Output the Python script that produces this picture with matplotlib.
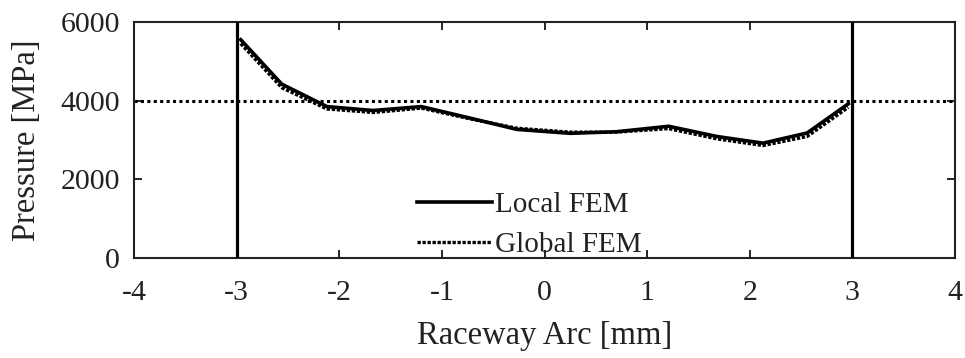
import matplotlib
matplotlib.use("Agg")
import matplotlib.pyplot as plt

# Contact pressure along the raceway arc
arc_local = [-2.96, -2.56, -2.12, -1.67, -1.20, -0.73, -0.27, 0.25, 0.70, 1.21, 1.68, 2.13, 2.56, 2.96]
p_local = [5550, 4420, 3850, 3750, 3850, 3560, 3270, 3170, 3210, 3350, 3090, 2920, 3180, 3920]

arc_global = [-2.96, -2.56, -2.12, -1.67, -1.20, -0.73, -0.27, 0.25, 0.70, 1.21, 1.68, 2.13, 2.56, 2.96]
p_global = [5450, 4330, 3790, 3700, 3810, 3540, 3300, 3200, 3200, 3290, 3030, 2860, 3090, 3830]

contact_edges = [-3, 3]
pressure_limit = 4000

x_ticks = [-4, -3, -2, -1, 0, 1, 2, 3, 4]
y_ticks = [0, 2000, 4000, 6000]

plt.rcParams["font.family"] = ["Liberation Serif", "DejaVu Serif"]

fig = plt.figure(figsize=(9.65, 3.58), dpi=100)
ax = fig.add_axes([0.1389, 0.2793, 0.8507, 0.6592])

for xe in contact_edges:
    ax.axvline(xe, color="black", lw=2.3, zorder=3)
ax.axhline(pressure_limit, color="black", lw=2.2, linestyle=(0, (1, 1.1)), zorder=2)

ax.plot(arc_local, p_local, color="black", lw=2.6, solid_joinstyle="miter",
        label="Local FEM", zorder=4)
ax.plot(arc_global, p_global, color="black", lw=2.4, linestyle=(0, (1, 0.5)),
        label="Global FEM", zorder=5)

ax.set_xlim(-4, 4)
ax.set_ylim(0, 6000)
ax.set_xticks(x_ticks)
ax.set_xticklabels([str(t) for t in x_ticks])
ax.set_yticks(y_ticks)

ax.tick_params(direction="in", length=6, width=1.2, top=True, right=True,
               labelsize=21.5, color="black", labelcolor="#222222")
ax.tick_params(axis="x", pad=16)
ax.tick_params(axis="y", pad=10)
for s in ax.spines.values():
    s.set_linewidth(1.5)
    s.set_color("#222222")

ax.set_xlabel("Raceway Arc [mm]", fontsize=23.5, color="#222222", labelpad=10)
ax.set_ylabel("Pressure [MPa]", fontsize=23.5, color="#222222", labelpad=13)

leg = ax.legend(loc="center left", bbox_to_anchor=(0.345, 0.14), frameon=False,
                fontsize=21, handlelength=2.55, handletextpad=0.12,
                borderpad=0, borderaxespad=0, labelspacing=0.45)
for t in leg.get_texts():
    t.set_color("#222222")

fig.savefig("out.png", dpi=100)
